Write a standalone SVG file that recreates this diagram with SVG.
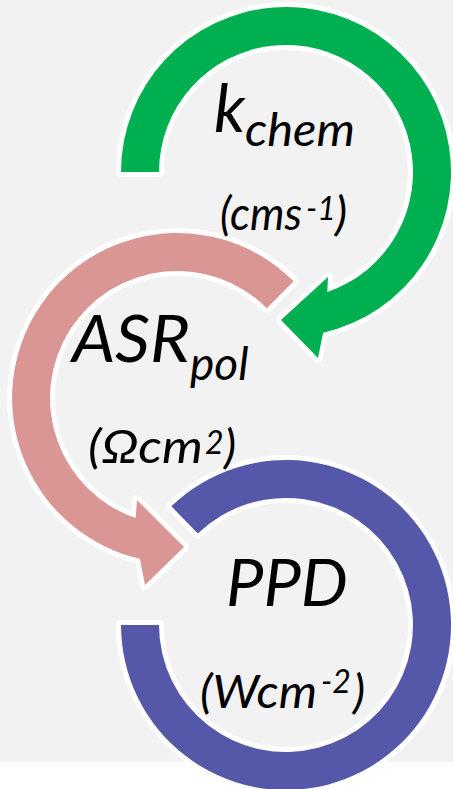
<svg xmlns="http://www.w3.org/2000/svg" width="453" height="789" viewBox="0 0 453 789">
<style>
.ring{stroke:#ffffff;stroke-width:10;stroke-linejoin:round;paint-order:stroke}
.green{fill:#00B050}
.pink{fill:#D99694}
.blue{fill:#5558A9}
text{font-family:Lato,"Open Sans","Noto Sans",sans-serif;font-style:italic;fill:#000000}
.big{font-size:66px}
.sub{font-size:46px}
.unit{font-size:47px}
.sup{font-size:32px}
</style>
<rect x="0" y="0" width="453" height="789" fill="#ffffff"/>
<rect x="0" y="0" width="453" height="762" fill="#F2F2F2"/>
<g id="connectors">
  <path id="arrow-kchem" class="ring green" d="M121,172 A165,165 0 1 1 323.1,332.8 L318,358 L281,320 L328,277 L327.3,292.1 A127,127 0 1 0 159,172 Z"/>
  <path id="arrow-asr" class="ring pink" d="M293.7,281.3 A165,165 0 1 0 139.9,558.8 L145,585 L184,547 L137,500 L135.7,518.1 A127,127 0 1 1 266.8,308.2 Z"/>
  <path id="arc-ppd" class="ring blue" d="M121,625 A165,165 0 1 0 171.4,506.3 L197.8,533.6 A127,127 0 1 1 159,625 Z"/>
</g>
<g id="node-kchem">
  <text x="214" y="132" class="big" font-size="72">k<tspan class="sub" x="245" y="146" textLength="110" lengthAdjust="spacingAndGlyphs">chem</tspan></text>
  <text x="220" y="230" class="unit"><tspan textLength="82" lengthAdjust="spacingAndGlyphs">(cms</tspan><tspan class="sup" x="306" y="220">-1</tspan><tspan x="335" y="230">)</tspan></text>
</g>
<g id="node-asr">
  <text x="72" y="362" class="big"><tspan textLength="118" lengthAdjust="spacingAndGlyphs">ASR</tspan><tspan class="sub" x="190" y="380">pol</tspan></text>
  <text x="88" y="463" class="unit"><tspan textLength="115" lengthAdjust="spacingAndGlyphs">(Ωcm</tspan><tspan class="sup" x="205" y="454">2</tspan><tspan x="224" y="463">)</tspan></text>
</g>
<g id="node-ppd">
  <text x="226" y="606" class="big" textLength="122" lengthAdjust="spacingAndGlyphs">PPD</text>
  <text x="200" y="708" class="unit"><tspan textLength="117" lengthAdjust="spacingAndGlyphs">(Wcm</tspan><tspan class="sup" x="321" y="693">-2</tspan><tspan x="353" y="708">)</tspan></text>
</g>
</svg>
